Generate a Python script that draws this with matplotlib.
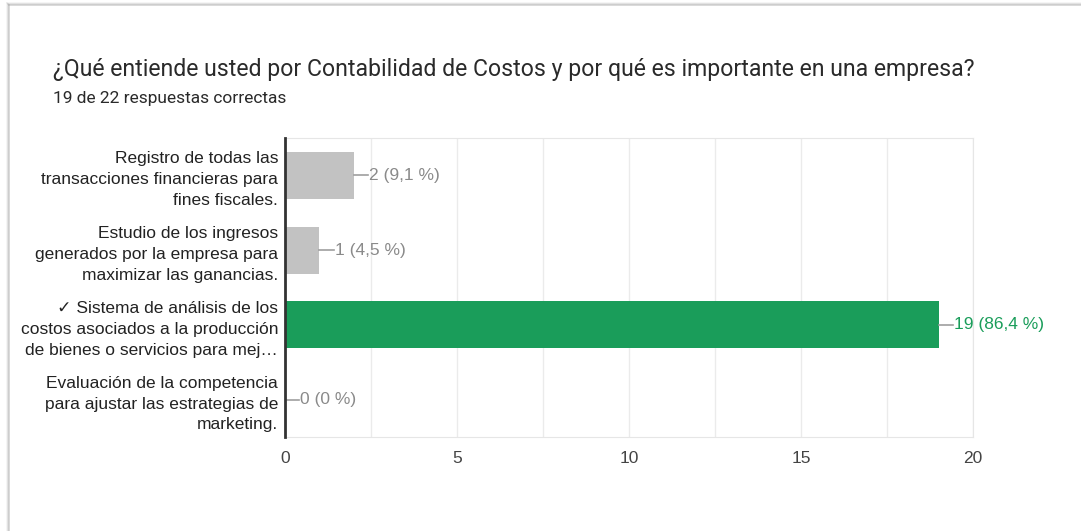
import matplotlib.pyplot as plt
from matplotlib.lines import Line2D

title = "¿Qué entiende usted por Contabilidad de Costos y por qué es importante en una empresa?"
subtitle = "19 de 22 respuestas correctas"
options = [
    "Registro de todas las\ntransacciones financieras para\nfines fiscales.",
    "Estudio de los ingresos\ngenerados por la empresa para\nmaximizar las ganancias.",
    "✓ Sistema de análisis de los\ncostos asociados a la producción\nde bienes o servicios para mej…",
    "Evaluación de la competencia\npara ajustar las estrategias de\nmarketing.",
]
counts = [2, 1, 19, 0]
percents = ["9,1", "4,5", "86,4", "0"]
correct = [False, False, True, False]
x_ticks = [0, 5, 10, 15, 20]

GREEN = "#1a9d5a"
GRAY_BAR = "#c2c2c2"
LABEL_GRAY = "#8a8a8a"
FONT = ["Liberation Sans", "DejaVu Sans"]

fig = plt.figure(figsize=(10.81, 5.31), dpi=100)
fig.patch.set_facecolor("white")

ax = fig.add_axes([285 / 1081, 1 - 437 / 531, 688 / 1081, 299 / 531])

ypos = list(range(len(options)))
colors = [GREEN if c else GRAY_BAR for c in correct]
ax.barh(ypos, counts, height=0.63, color=colors, zorder=3)

for y, v, p, c in zip(ypos, counts, percents, correct):
    ax.plot([v, v + 0.42], [y, y], color="#9e9e9e", lw=1.2, zorder=3)
    ax.text(v + 0.45, y, f"{v} ({p} %)", va="center", ha="left",
            fontsize=12.5, family=FONT,
            color=GREEN if c else LABEL_GRAY)

ax.set_xlim(0, 20)
ax.set_ylim(3.5, -0.5)
ax.set_xticks(x_ticks)
ax.set_xticks([2.5, 7.5, 12.5, 17.5], minor=True)
ax.set_xticklabels([str(t) for t in x_ticks], fontsize=12.5,
                   family=FONT, color="#444444")
ax.set_yticks(ypos)
ax.set_yticklabels(options, fontsize=12.5, family=FONT,
                   color="#222222", linespacing=1.48)
ax.tick_params(axis="both", which="both", length=0)
ax.tick_params(axis="x", pad=10)
ax.tick_params(axis="y", pad=5)
ax.grid(axis="x", which="both", color="#ebebeb", lw=1, zorder=0)

for s in ["top", "right", "bottom"]:
    ax.spines[s].set_color("#e6e6e6")
ax.spines["left"].set_color("#333333")
ax.spines["left"].set_linewidth(2)
ax.spines["left"].set_zorder(4)

fig.text(53 / 1081, 1 - 76 / 531, title, fontsize=16.6, family="Roboto",
         color="#2a2a2a", va="baseline")
fig.text(53 / 1081, 1 - 103 / 531, subtitle, fontsize=12.5, family="Roboto",
         color="#2a2a2a", va="baseline")

# card border with a soft shadow on the left and top (drawn over the clipped label)
fig.add_artist(Line2D([0, 8 / 1081, 8 / 1081], [0, 0, 1], color="white", lw=16))
for i, a in enumerate([0.45, 0.25, 0.12]):
    fig.add_artist(Line2D([(9 - i) / 1081, (9 - i) / 1081], [0, 1 - (5 - i) / 531],
                          color="#9e9e9e", alpha=a, lw=1.2))
    fig.add_artist(Line2D([(9 - i) / 1081, 1], [1 - (5 - i) / 531, 1 - (5 - i) / 531],
                          color="#9e9e9e", alpha=a, lw=1.2))

fig.savefig("out.png", dpi=100, facecolor="white")
